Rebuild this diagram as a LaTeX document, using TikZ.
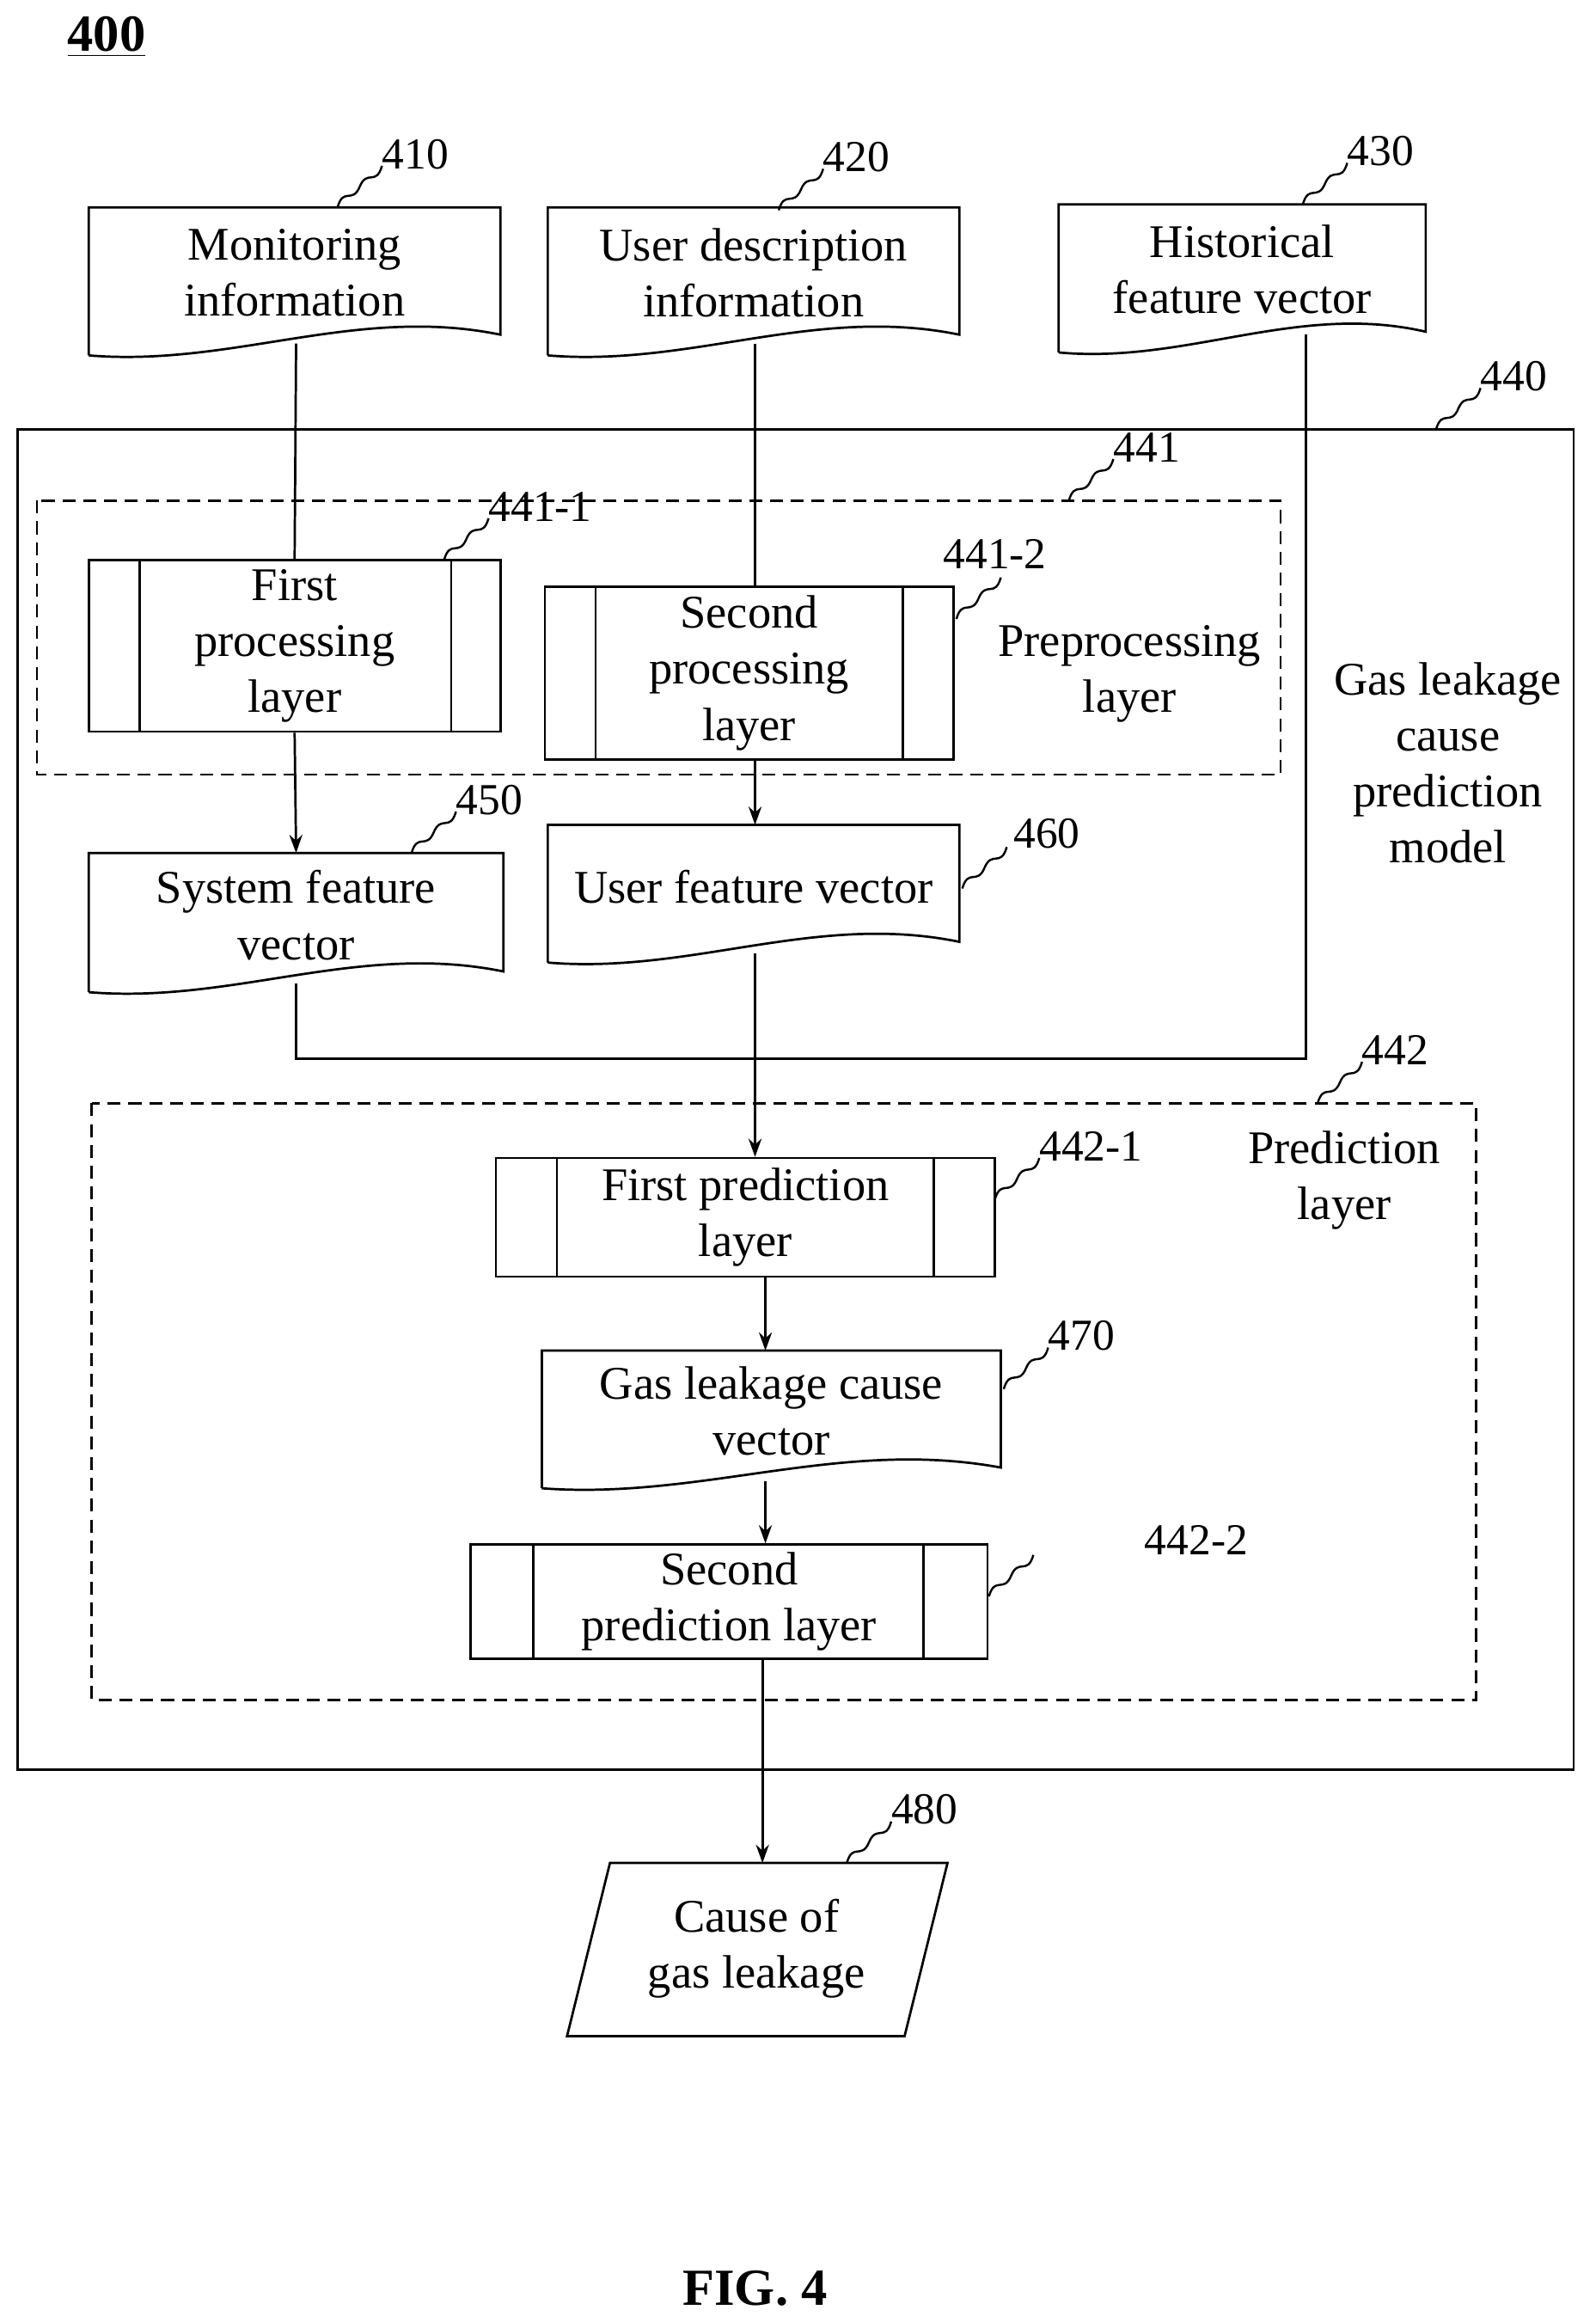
\documentclass[tikz,border=0pt]{standalone}
\usepackage{fontspec}
\setmainfont{Liberation Serif}
\usetikzlibrary{decorations.pathmorphing,arrows.meta}
\newcommand\mydoc[4]{% x1 y1 x2 yb
  \draw[line width=0.9pt] (#1,#4) -- (#1,#2) -- (#3,#2) -- (#3,#4-14)
   .. controls ({#3-0.35*(#3-#1)},#4-34) and ({#1+0.35*(#3-#1)},#4+8) .. (#1,#4);}
\newcommand\mysq[3]{% x y label ; squiggle starts at (x,y) going up-right
  \draw[line width=0.8pt] (#1,#2) .. controls (#1+4,#2-14) and (#1+10,#2-2) .. (#1+15,#2-14)
     .. controls (#1+20,#2-26) and (#1+26,#2-14) .. (#1+30,#2-28);
  \node[lbl,anchor=west] at (#1+28,#2-36) {#3};}
\begin{document}
\begin{tikzpicture}[x=0.02cm,y=-0.02cm,
  txt/.style={font=\fontsize{18}{21.5}\selectfont,align=center,inner sep=1pt},
  lbl/.style={font=\fontsize{17}{20}\selectfont,inner sep=1pt},
  box/.style={draw,line width=0.9pt,txt},
  dashbox/.style={draw,line width=0.9pt,dash pattern=on 5pt off 3pt},
  arr/.style={line width=0.9pt,-{Stealth[length=7pt,width=5pt]}},
  ln/.style={line width=0.9pt}]
\useasboundingbox (0,0) rectangle (1078,1568);
\node[font=\bfseries\fontsize{20}{24}\selectfont] (t400) at (72,25) {\underline{400}};
% big box and dashed groups
\draw[line width=0.9pt] (12,290) rectangle (1063,1195);
\draw[dashbox] (25,338) rectangle (865,523);
\draw[dashbox] (62,745) rectangle (997,1148);
% documents
\mydoc{60}{140}{338}{240}
\node[txt] (m410) at (199,184) {Monitoring\\information};
\mydoc{370}{140}{648}{240}
\node[txt] (m420) at (509,184) {User description\\information};
\mydoc{715}{138}{963}{238}
\node[txt] (m430) at (839,182) {Historical\\feature vector};
\mydoc{60}{576}{340}{670}
\node[txt] (m450) at (200,618) {System feature\\vector};
\mydoc{370}{557}{648}{650}
\node[txt] (m460) at (509,599) {User feature vector};
\mydoc{366}{912}{676}{1005}
\node[txt] (m470) at (521,953) {Gas leakage cause\\vector};
\coordinate (b410) at (200,232);
\coordinate (b420) at (510,232);
\coordinate (b430) at (882,226);
\coordinate (b450) at (200,664);
\coordinate (b460) at (510,644);
\coordinate (b470) at (517,1000);
% processing boxes
\node[box,minimum width=5.56cm,minimum height=2.32cm] (p1) at (199,436) {First\\processing\\layer};
\draw[ln] ([xshift=0.7cm]p1.north west) -- ([xshift=0.7cm]p1.south west);
\draw[ln] ([xshift=-0.68cm]p1.north east) -- ([xshift=-0.68cm]p1.south east);
\node[box,minimum width=5.52cm,minimum height=2.34cm] (p2) at (506,454.5) {Second\\processing\\layer};
\draw[ln] ([xshift=0.7cm]p2.north west) -- ([xshift=0.7cm]p2.south west);
\draw[ln] ([xshift=-0.7cm]p2.north east) -- ([xshift=-0.7cm]p2.south east);
\node[box,minimum width=6.74cm,minimum height=1.6cm] (q1) at (503.5,822) {First prediction\\layer};
\draw[ln] ([xshift=0.84cm]q1.north west) -- ([xshift=0.84cm]q1.south west);
\draw[ln] ([xshift=-0.84cm]q1.north east) -- ([xshift=-0.84cm]q1.south east);
\node[box,minimum width=6.98cm,minimum height=1.54cm] (q2) at (492.5,1081.5) {Second\\prediction layer};
\draw[ln] ([xshift=0.86cm]q2.north west) -- ([xshift=0.86cm]q2.south west);
\draw[ln] ([xshift=-0.88cm]q2.north east) -- ([xshift=-0.88cm]q2.south east);
% output parallelogram
\draw[line width=0.9pt] (412,1258) -- (640,1258) -- (611,1375) -- (383,1375) -- cycle;
\node[txt] (o480) at (511,1316) {Cause of\\gas leakage};
% texts
\node[txt] (pre) at (763,455) {Preprocessing\\layer};
\node[txt] (gas) at (978,515) {Gas leakage\\cause\\prediction\\model};
\node[txt] (pred) at (908,797) {Prediction\\layer};
\node[lbl] (l4422) at (808,1040) {442-2};
\node[font=\bfseries\fontsize{20}{24}\selectfont] (fig) at (510,1545) {FIG. 4};
% labels
\mysq{228}{140}{410}
\mysq{526}{142}{420}
\mysq{880}{138}{430}
\mysq{970}{290}{440}
\mysq{722}{338}{441}
\mysq{300}{378}{441-1}
\mysq{646}{418}{}
\node[lbl] at (672,374) {441-2};
\mysq{278}{576}{450}
\mysq{650}{600}{}
\node[lbl] at (707,563) {460};
\mysq{890}{745}{442}
\mysq{672}{810}{442-1}
\mysq{678}{938}{470}
\mysq{668}{1078}{}
\mysq{572}{1258}{480}
% connectors
\draw[ln] (b410) -- (p1.north);
\draw[ln] (b420) -- (p2.north -| b420);
\draw[arr] (p1.south) -- (200,576);
\draw[arr] (p2.south -| b460) -- (510,557);
\coordinate (j) at (510,715);
\draw[ln] (b430) -- (882,715) -- (j);
\draw[ln] (b450) -- (200,715) -- (j);
\draw[arr] (b460) -- (q1.north -| b460);
\draw[arr] (q1.south -| b470) -- (517,912);
\draw[arr] (b470) -- (q2.north -| b470);
\draw[arr] (q2.south -| 515,0) -- (515,1258);
\end{tikzpicture}
\end{document}
